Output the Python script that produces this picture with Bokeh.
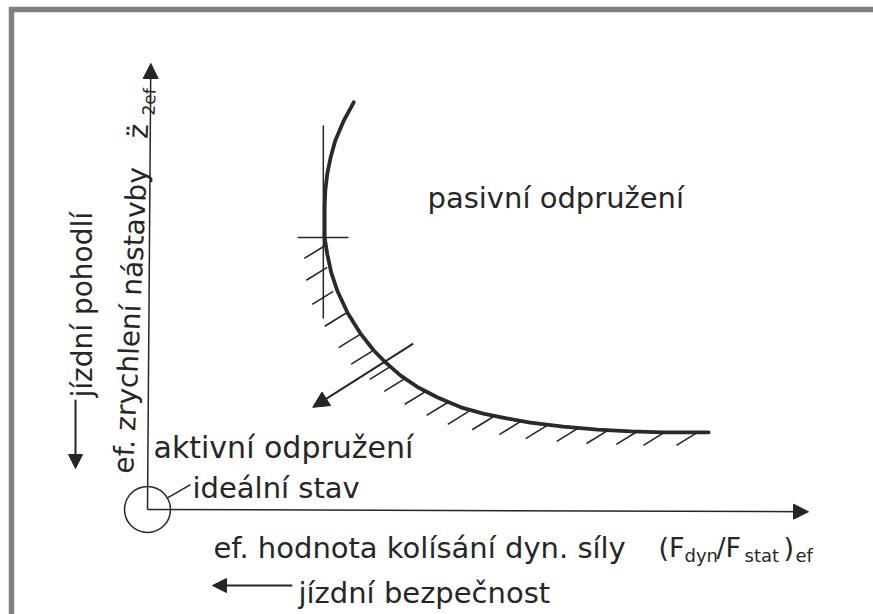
import math
from bokeh.plotting import figure
from bokeh.models import Range1d, Label, Arrow, NormalHead, ColumnDataSource
from bokeh.embed import file_html
from bokeh.resources import INLINE

# ---- data (schematic units: axis arrow tips at 10) ----
curve_x = [3.12, 2.97, 2.84, 2.77, 2.72, 2.69, 2.68, 2.68, 2.72, 2.78, 2.87, 3.03, 3.22,
           3.42, 3.60, 3.83, 4.09, 4.39, 4.74, 5.08, 5.45, 5.79, 6.29, 6.81, 7.31, 7.81, 8.49]
curve_y = [9.13, 8.72, 8.27, 7.89, 7.53, 7.15, 6.77, 6.10, 5.72, 5.31, 4.91, 4.40, 3.95,
           3.57, 3.30, 3.00, 2.74, 2.51, 2.29, 2.15, 2.04, 1.95, 1.86, 1.79, 1.75, 1.73, 1.73]

hatch_x = [2.69, 2.72, 2.81, 3.00, 3.21, 3.40, 3.68, 3.90, 4.21, 4.54, 4.86, 5.23, 5.64,
           6.04, 6.51, 6.96, 7.41, 7.82, 8.32]
hatch_y = [5.92, 5.43, 4.89, 4.40, 3.92, 3.55, 3.21, 2.94, 2.65, 2.40, 2.20, 2.08, 1.97,
           1.88, 1.82, 1.77, 1.75, 1.73, 1.73]
hatch_dx = -0.318
hatch_dy = -0.291

tangent_x = [2.66, 2.66]
tangent_y = [4.28, 8.61]
tick_x = [2.27, 3.04]
tick_y = [6.10, 6.10]
normal_start = (4.02, 3.72)
normal_end = (2.50, 2.29)

axis_x_end = (10.0, -0.05)
axis_y_end = (0.05, 10.0)

labels = [
    ("pasivní odpružení", 4.236, 6.973, "29px"),
    ("aktivní odpružení", 0.091, 1.390, "30px"),
    ("ideální stav", 0.681, 0.471, "29px"),
    ("ef. hodnota kolísání dyn. síly", 0.998, -0.852, "29px"),
    ("jízdní bezpečnost", 2.284, -1.883, "29px"),
]
formula_main = [("(F", 7.731, -0.852), ("/F", 8.608, -0.852), (")", 9.622, -0.852)]
formula_sub = [("dyn", 8.124, -1.031), ("stat", 9.032, -1.031), ("ef", 9.803, -1.031)]

INK = "#262626"
FONT = "DejaVu Sans"

p = figure(width=865, height=608,
           x_range=Range1d(-2.012, 10.983), y_range=Range1d(-2.354, 11.143),
           x_axis_type=None, y_axis_type=None,
           output_backend="svg", toolbar_location=None,
           min_border_left=6, min_border_top=6, min_border_right=0, min_border_bottom=0,
           border_fill_color="#808080", background_fill_color="white",
           outline_line_color=None)
p.margin = (6, 0, 0, 8)
p.grid.visible = False

# axes as arrows
p.add_layout(Arrow(end=NormalHead(size=15, fill_color=INK, line_color=INK),
                   x_start=0, y_start=0, x_end=axis_x_end[0], y_end=axis_x_end[1],
                   line_color=INK, line_width=1.5))
p.add_layout(Arrow(end=NormalHead(size=15, fill_color=INK, line_color=INK),
                   x_start=0, y_start=0, x_end=axis_y_end[0], y_end=axis_y_end[1],
                   line_color=INK, line_width=1.5))

# ideal state circle + leader
p.scatter([0], [0], marker="circle", size=46, fill_color=None, line_color=INK, line_width=1.5)
p.line([0.29, 0.65], [0.25, 0.56], line_color=INK, line_width=1.5)

# limit curve
p.line(curve_x, curve_y, line_color="#2a2a2a", line_width=3.8, line_join="round", line_cap="round")

# hatching
src = ColumnDataSource(dict(x0=hatch_x, y0=hatch_y,
                            x1=[x + hatch_dx for x in hatch_x],
                            y1=[y + hatch_dy for y in hatch_y]))
p.segment("x0", "y0", "x1", "y1", source=src, line_color=INK, line_width=1.6)

# tangent + tick
p.line(tangent_x, tangent_y, line_color=INK, line_width=1.5)
p.line(tick_x, tick_y, line_color=INK, line_width=1.5)

# normal arrow towards active suspension
p.add_layout(Arrow(end=NormalHead(size=16, fill_color=INK, line_color=INK),
                   x_start=normal_start[0], y_start=normal_start[1],
                   x_end=normal_end[0], y_end=normal_end[1],
                   line_color=INK, line_width=2))

# "jízdní bezpečnost" arrow
p.add_layout(Arrow(end=NormalHead(size=14, fill_color=INK, line_color=INK),
                   x_start=2.19, y_start=-1.704, x_end=0.983, y_end=-1.704,
                   line_color=INK, line_width=2))
# "jízdní pohodlí" arrow
p.add_layout(Arrow(end=NormalHead(size=14, fill_color=INK, line_color=INK),
                   x_start=-1.089, y_start=2.46, x_end=-1.089, y_end=0.919,
                   line_color=INK, line_width=2))

def lab(text, x, y, size="29px", angle=0.0):
    p.add_layout(Label(x=x, y=y, text=text, angle=angle, text_font=FONT,
                       text_font_size=size, text_color=INK,
                       text_align="left", text_baseline="alphabetic"))

for t, x, y, s in labels:
    lab(t, x, y, s)
for t, x, y in formula_main:
    lab(t, x, y, "27px")
for t, x, y in formula_sub:
    lab(t, x, y, "18px")

tilt = math.radians(87.4)
lab("ef. zrychlení nástavby", -0.363, 0.807, "28px", tilt)
lab("z\u0308", -0.144, 8.318, "28px", tilt)
lab("2ef", 0.015, 8.834, "17px", tilt)
lab("jízdní pohodlí", -0.983, 2.511, "28px", math.pi / 2)

open("out.html", "w").write(file_html(p, INLINE))
